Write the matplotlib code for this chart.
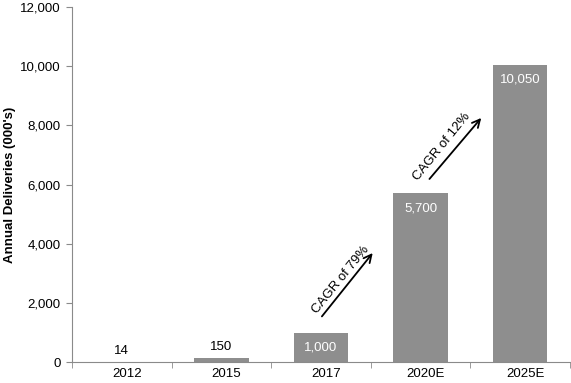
import matplotlib.pyplot as plt
import matplotlib.transforms as mtransforms
import numpy as np

plt.rcParams['font.family'] = ['Liberation Sans', 'DejaVu Sans']

years = ['2012', '2015', '2017', '2020E', '2025E']
deliveries = [14, 150, 1000, 5700, 10050]
labels = ['14', '150', '1,000', '5,700', '10,050']
inside = [False, False, True, True, True]

cagr_text = ['CAGR of 79%', 'CAGR of 12%']
arrow_start = [(2.01, 1550), (3.09, 6190)]
arrow_end = [(2.52, 3690), (3.61, 8250)]
text_pos = [(2.20, 2800), (3.21, 7290)]

bar_color = '#8e8e8e'
axis_color = '#8a8a8a'

fig = plt.figure(figsize=(5.71, 3.83), dpi=100)
ax = fig.add_axes([0.126, 0.054, 0.872, 0.928])

xs = np.arange(len(years))
ax.bar(xs, deliveries, width=0.55, color=bar_color, zorder=2)

for x, v, lab, ins in zip(xs, deliveries, labels, inside):
    if ins:
        ax.text(x, v - 300, lab, ha='center', va='top', color='white', fontsize=9.5)
    else:
        ax.text(x, v + 150, lab, ha='center', va='bottom', color='black', fontsize=9.5)

for txt, s, e, tp in zip(cagr_text, arrow_start, arrow_end, text_pos):
    ax.annotate('', xy=e, xytext=s,
                arrowprops=dict(arrowstyle='->', color='black', lw=1.3,
                                mutation_scale=14, shrinkA=0, shrinkB=0))
    ax.text(tp[0], tp[1], txt, rotation=51, ha='center', va='center',
            fontsize=9.5, rotation_mode='anchor')

ax.set_xlim(-0.5, len(years) - 0.5)
ax.set_ylim(0, 12000)
ax.set_yticks(np.arange(0, 12001, 2000))
ax.set_yticklabels([f'{v:,}' for v in range(0, 12001, 2000)], fontsize=9.5)
ax.set_xticks(xs)
ax.set_xticklabels(years, fontsize=9.5)
ax.tick_params(axis='x', length=0, pad=4)
ax.set_xticks(np.arange(-0.5, len(years)), minor=True)
ax.tick_params(axis='x', which='minor', length=4, color=axis_color)
ax.tick_params(axis='y', length=4, color=axis_color, pad=4)

shift = mtransforms.ScaledTranslation(5 / 100, 0, fig.dpi_scale_trans)
for lbl in ax.get_xticklabels():
    lbl.set_transform(lbl.get_transform() + shift)

for side in ['top', 'right']:
    ax.spines[side].set_visible(False)
for side in ['left', 'bottom']:
    ax.spines[side].set_color(axis_color)

ax.set_ylabel("Annual Deliveries (000's)", fontsize=9.5, fontweight='bold')
ax.yaxis.set_label_coords(-0.112, 0.5)

fig.savefig('out.png', dpi=100)
